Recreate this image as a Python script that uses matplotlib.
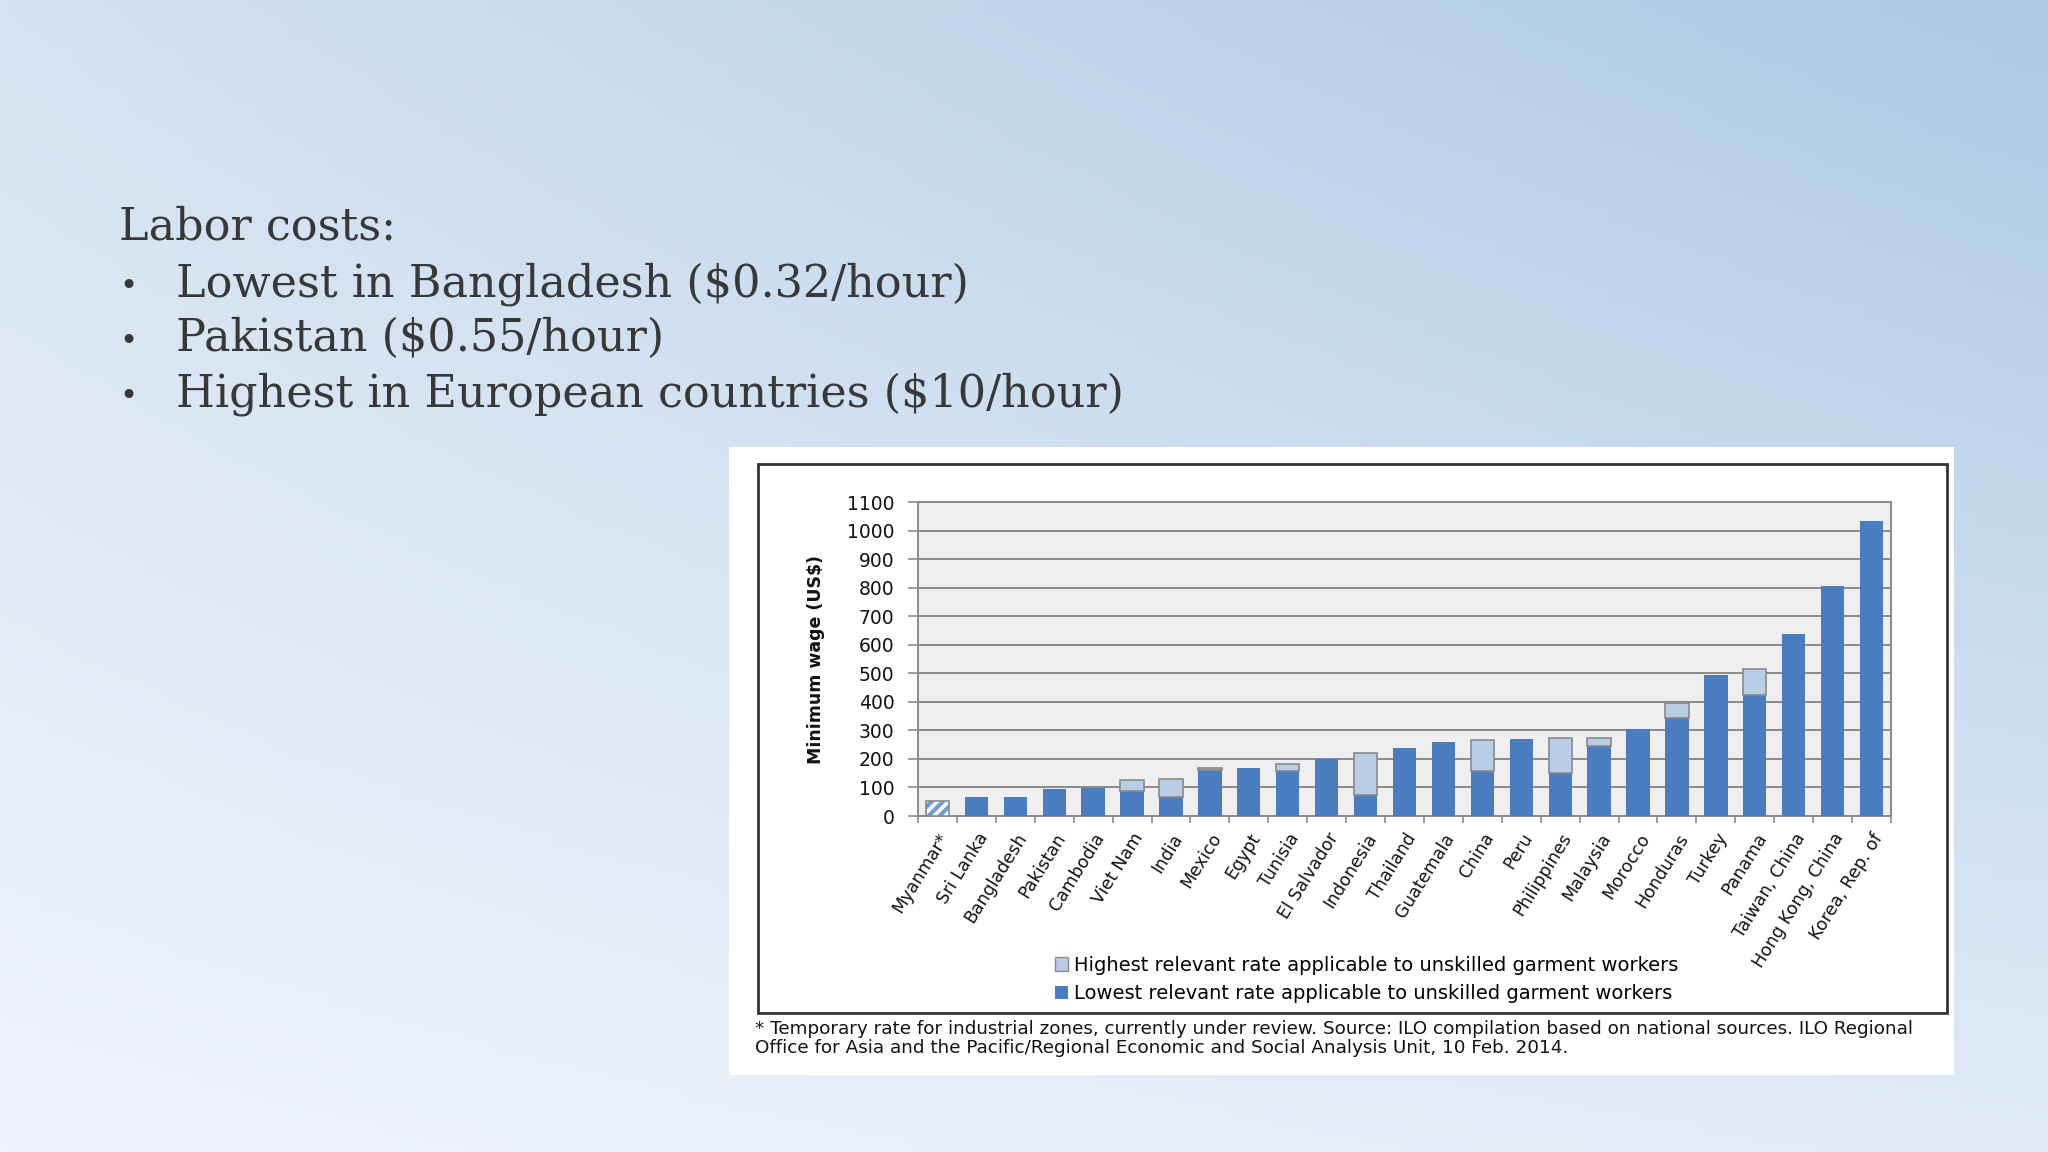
import numpy as np
import matplotlib
matplotlib.use("Agg")
from matplotlib import pyplot as plt
from matplotlib.patches import Rectangle, Patch

countries = ["Myanmar*", "Sri Lanka", "Bangladesh", "Pakistan", "Cambodia",
             "Viet Nam", "India", "Mexico", "Egypt", "Tunisia", "El Salvador",
             "Indonesia", "Thailand", "Guatemala", "China", "Peru",
             "Philippines", "Malaysia", "Morocco", "Honduras", "Turkey",
             "Panama", "Taiwan, China", "Hong Kong, China", "Korea, Rep. of"]
lowest = [54, 65, 67, 96, 98, 88, 65, 160, 167, 157, 200, 72, 239, 259,
          157, 271, 151, 244, 306, 343, 494, 425, 638, 806, 1034]
highest = [54, 65, 67, 96, 98, 125, 130, 167, 167, 183, 200, 221, 239, 259,
           265, 271, 274, 274, 306, 395, 494, 516, 638, 806, 1034]
temporary = [True] + [False] * 24
yticks = list(range(0, 1200, 100))

bullets = ["Lowest in Bangladesh ($0.32/hour)",
           "Pakistan ($0.55/hour)",
           "Highest in European countries ($10/hour)"]

W, H = 2048, 1152
fig = plt.figure(figsize=(W / 100, H / 100), dpi=100)

# slide background gradient
bg = fig.add_axes([0, 0, 1, 1], zorder=-5)
tl = np.array([212, 226, 241]) / 255
tr = np.array([172, 201, 230]) / 255
bl = np.array([240, 244, 250]) / 255
br = np.array([224, 235, 246]) / 255
u = np.linspace(0, 1, 200)[None, :, None]
v = np.linspace(0, 1, 120)[:, None, None]
img = (1 - v) * ((1 - u) * tl + u * tr) + v * ((1 - u) * bl + u * br)
bg.imshow(img, aspect="auto", extent=[0, 1, 0, 1], origin="upper")
bg.set_axis_off()

# slide text
serif = "DejaVu Serif"
tcol = "#383838"
fig.text(119 / W, 1 - 240 / H, "Labor costs:", fontsize=32, family=serif,
         color=tcol, va="baseline")
for i, b in enumerate(bullets):
    yb = 1 - (296 + 55 * i) / H
    fig.text(119 / W, yb, "•", fontsize=22, family=serif, color=tcol, va="baseline")
    fig.text(176 / W, yb, b, fontsize=32, family=serif, color=tcol, va="baseline")

# chart image panel
fig.patches.append(Rectangle((729 / W, 1 - 1075 / H), (1954 - 729) / W, (1075 - 447) / H,
                             transform=fig.transFigure, facecolor="white",
                             edgecolor="none", zorder=1))
fig.patches.append(Rectangle((758 / W, 1 - 1013 / H), (1947 - 758) / W, (1013 - 464) / H,
                             transform=fig.transFigure, facecolor="none",
                             edgecolor="#333333", lw=2, zorder=2))

sans = "DejaVu Sans"
ax = fig.add_axes([918 / W, 1 - 816 / H, (1891 - 918) / W, (816 - 502) / H], zorder=5)
ax.set_facecolor("#efeff2")
x = np.arange(len(countries))
dark = "#4a7dbf"
light = "#b9cde6"
low = np.array(lowest)
high = np.array(highest)
tmp = np.array(temporary)
w = 0.6

plt.rcParams["hatch.linewidth"] = 3
ax.bar(x[~tmp], low[~tmp], width=w, color=dark, zorder=3)
extra = (high - low > 0) & ~tmp
ax.bar(x[extra], (high - low)[extra], bottom=low[extra], width=w, color=light,
       edgecolor="#8a8a8a", lw=1.2, zorder=3)
ax.bar(x[tmp], high[tmp], width=w, color="white", edgecolor="#6f9bd6",
       hatch="///", lw=0, zorder=3)
ax.bar(x[tmp], high[tmp], width=w, color="none", edgecolor="#8a8a8a", lw=1.2, zorder=4)

ax.set_xlim(-0.5, len(countries) - 0.5)
ax.set_ylim(0, 1100)
ax.set_yticks(yticks)
ax.set_yticklabels([str(t) for t in yticks], fontsize=13.5, family=sans, color="#111111")
ax.yaxis.grid(True, color="#8a8a8a", lw=1.4, zorder=1)
ax.set_axisbelow(True)
ax.tick_params(axis="y", length=7, color="#8a8a8a", width=1.2, pad=10)

ax.set_xticks(x)
ax.set_xticklabels(countries, rotation=58, ha="right", rotation_mode="anchor",
                   fontsize=12.5, family=sans, color="#111111")
ax.set_xticks(np.arange(-0.5, len(countries), 1), minor=True)
ax.tick_params(axis="x", which="major", length=0, pad=10)
ax.tick_params(axis="x", which="minor", length=5, color="#8a8a8a", width=1.2)

for s in ax.spines.values():
    s.set_color("#8a8a8a")
    s.set_linewidth(1.4)

ax.set_ylabel("Minimum wage (US$)", fontsize=12.5, family=sans, fontweight="bold",
              color="#111111", labelpad=16)

handles = [Patch(facecolor=light, edgecolor="#8a8a8a", lw=1),
           Patch(facecolor=dark, edgecolor="none")]
labels = ["Highest relevant rate applicable to unskilled garment workers",
          "Lowest relevant rate applicable to unskilled garment workers"]
fig.legend(handles, labels, loc="upper left", bbox_to_anchor=(1045 / W, 1 - 946 / H),
           frameon=False, prop={"family": sans, "size": 14}, handlelength=0.7,
           handleheight=0.7, handletextpad=0.3, labelspacing=0.5, borderpad=0)

foot1 = ("* Temporary rate for industrial zones, currently under review. Source: ILO "
         "compilation based on national sources. ILO Regional")
foot2 = ("Office for Asia and the Pacific/Regional Economic and Social Analysis Unit, "
         "10 Feb. 2014.")
fig.text(755 / W, 1 - 1029 / H, foot1, fontsize=13.2, family=sans, color="#111111", va="center")
fig.text(755 / W, 1 - 1048 / H, foot2, fontsize=13.2, family=sans, color="#111111", va="center")

fig.savefig("out.png", dpi=100)
